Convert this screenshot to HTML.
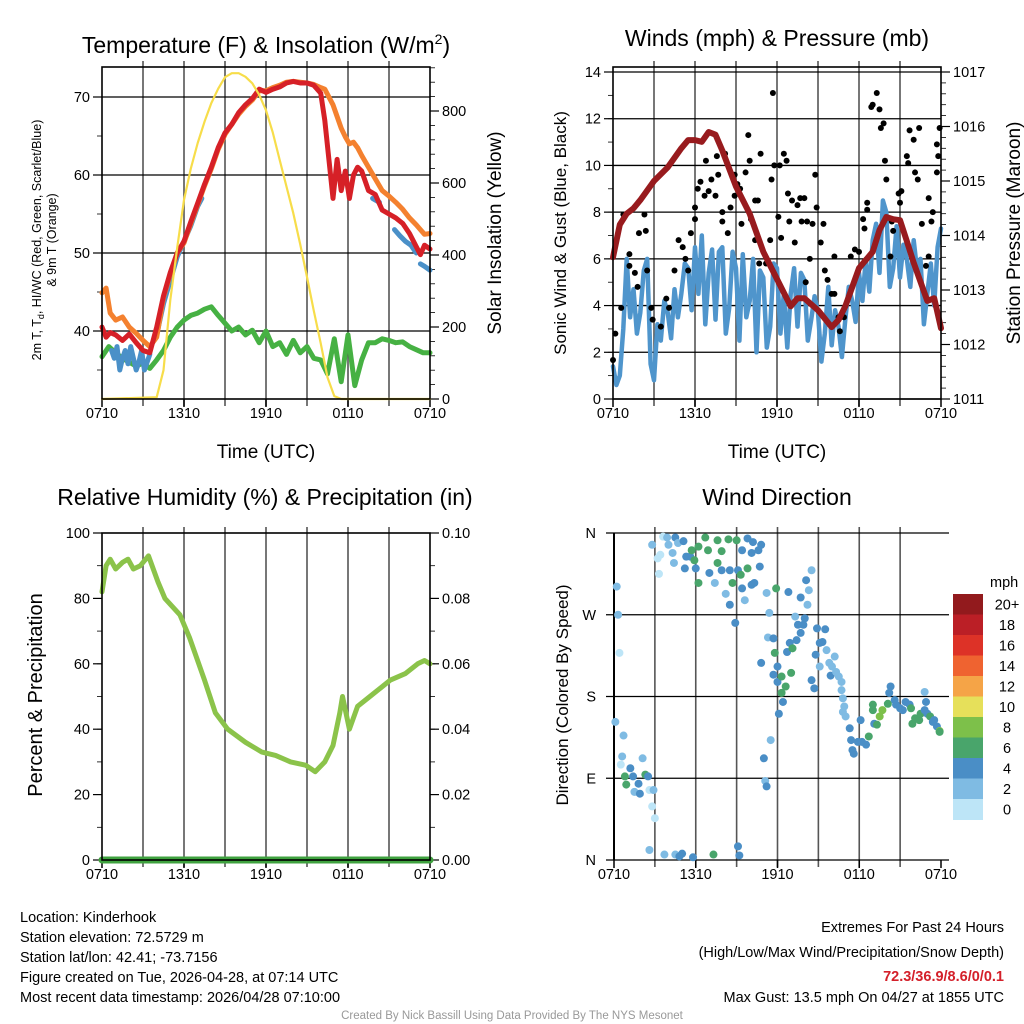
<!DOCTYPE html>
<html><head><meta charset="utf-8">
<style>
html,body{margin:0;padding:0;background:#fff;}
svg{display:block;font-family:"Liberation Sans",Arial,sans-serif;}
</style></head>
<body>
<svg id="fig" width="1024" height="1024" viewBox="0 0 1024 1024" xmlns="http://www.w3.org/2000/svg">
<rect width="1024" height="1024" fill="#fff"/>
<g font-size="23" text-anchor="middle" fill="#000">
<text x="266" y="53">Temperature (F) &amp; Insolation (W/m<tspan font-size="14" dy="-9">2</tspan><tspan dy="9">)</tspan></text>
<text x="777" y="46">Winds (mph) &amp; Pressure (mb)</text>
<text x="265" y="505">Relative Humidity (%) &amp; Precipitation (in)</text>
<text x="777" y="505">Wind Direction</text>
</g>
<g font-size="19" text-anchor="middle">
<text x="266" y="458">Time (UTC)</text>
<text x="777" y="458">Time (UTC)</text>
</g>
<g font-size="12.5" text-anchor="middle">
<text transform="translate(41,240) rotate(-90)">2m T, T<tspan font-size="9" dy="3">d</tspan><tspan dy="-3">, HI/WC (Red, Green, Scarlet/Blue)</tspan></text>
<text transform="translate(56,240) rotate(-90)">&amp; 9m T (Orange)</text>
</g>
<text transform="translate(501,233) rotate(-90)" font-size="19" text-anchor="middle">Solar Insolation (Yellow)</text>
<text transform="translate(566,233) rotate(-90)" font-size="17" text-anchor="middle">Sonic Wind &amp; Gust (Blue, Black)</text>
<text transform="translate(1020,233) rotate(-90)" font-size="19" text-anchor="middle">Station Pressure (Maroon)</text>
<text transform="translate(42,695) rotate(-90)" font-size="20" text-anchor="middle">Percent &amp; Precipitation</text>
<text transform="translate(568,695) rotate(-90)" font-size="17" text-anchor="middle">Direction (Colored By Speed)</text>
<g font-size="14.5" fill="#000">
<text x="20" y="922">Location: Kinderhook</text>
<text x="20" y="942">Station elevation: 72.5729 m</text>
<text x="20" y="962">Station lat/lon: 42.41; -73.7156</text>
<text x="20" y="982">Figure created on Tue, 2026-04-28, at 07:14 UTC</text>
<text x="20" y="1002">Most recent data timestamp: 2026/04/28 07:10:00</text>
</g>
<g font-size="14.5" text-anchor="end">
<text x="1004" y="932">Extremes For Past 24 Hours</text>
<text x="1004" y="957">(High/Low/Max Wind/Precipitation/Snow Depth)</text>
<text x="1004" y="981" fill="#d4202a" font-weight="bold">72.3/36.9/8.6/0/0.1</text>
<text x="1004" y="1002">Max Gust: 13.5 mph On 04/27 at 1855 UTC</text>
</g>
<text x="512" y="1019" font-size="11.5" fill="#999" text-anchor="middle">Created By Nick Bassill Using Data Provided By The NYS Mesonet</text>
</svg>
<script>
// ---------- DATA ----------
const xTickLabels = ["0710","1310","1910","0110","0710"];
const tempTickLabels = [40,50,60,70];
const solarTickLabels = [0,200,400,600,800];
const windTickLabels = [0,2,4,6,8,10,12,14];
const presTickLabels = [1011,1012,1013,1014,1015,1016,1017];
const rhTickLabels = [0,20,40,60,80,100];
const precipTickLabels = ["0.00","0.02","0.04","0.06","0.08","0.10"];
const dirTickLabels = ["N","E","S","W","N"];
const speedBins = ["0","2","4","6","8","10","12","14","16","18","20+"];
const speedColors = ["#bde5f7","#7fbbe3","#4a8ec6","#49a56b","#7dc04a","#e6e05a","#f5a447","#ef6330","#dd3227","#bb1f26","#921a1d"];

const tHours = [0,0.3,0.6,1,1.5,2,2.5,3,3.5,4,4.5,5,5.5,6,6.5,7,7.5,8,8.5,9,9.5,10,10.5,11,11.5,12,12.5,13,13.5,14,14.5,15,15.5,16,16.3,16.6,16.9,17.2,17.5,17.8,18.1,18.4,18.7,19,19.5,20,20.5,21,21.5,22,22.5,23,23.3,23.6,24];
const temp2m = [40.5,39.2,39.8,39.5,38.8,39.6,38.5,37.5,37.2,40.5,44.5,47.5,50,51.5,54,56.4,58.8,61,63.5,65.4,66.5,68,69,69.8,71,70.6,71,71.3,71.8,72,71.8,71.8,71.5,70.5,67,62,57,62,58,60.5,57,60,61,60.5,58,57.5,55.5,55,54.5,53.8,52.5,50.8,49.8,51,50.5];
const temp9m = [44.9,45.5,42.3,41.4,41.8,40.5,39.7,38.8,38,39.2,44.3,47.3,50,51.3,53.8,56.2,58.6,60.8,63.3,65.2,66.5,67.8,68.8,69.6,70.8,70.8,71.2,71.5,71.9,72,71.9,71.8,71.6,71.2,71,70,69,67.5,66,64.9,64,64.2,63.5,62.5,61,59.5,58,57.3,56.5,55.6,54.5,53.6,53,52.4,52.5];
const hiHours = [0.7,0.9,1.1,1.3,1.5,1.7,1.9,2.1,2.3,2.5,2.7,2.9,3.1,3.3,3.5,null,4.0,4.5,5,5.5,6,6.5,7,7.3,null,19.8,20.3,null,21.4,21.8,22.2,22.6,23,null,23.3,23.6,24];
const hiWc = [37.5,36.5,38,35,36.5,37.5,35.8,38,36.5,35,36,37.5,35,36,37,null,39.5,43.5,46.5,49.5,51.5,53.5,56,57,null,57,56.5,null,53,52.2,51.5,51,50,null,48.6,48.3,47.8];
const dewHours = [0,0.5,1,1.5,2,2.5,3,3.5,4,4.5,5,5.5,6,6.5,7,7.5,8,8.5,9,9.5,10,10.5,11,11.5,12,12.5,13,13.5,14,14.5,15,15.5,16,16.5,17,17.5,18,18.5,19,19.5,20,20.5,21,21.5,22,22.5,23,23.5,24];
const dewpoint = [36.7,38,37.2,36.5,36,35.5,35.9,35.2,36.3,37.5,39.2,40.5,41.4,42,42.3,42.8,43.1,42,41,40,40.5,39.5,40.1,38.5,40,38,38.5,37,38.8,37.2,38,36.5,36.3,34.5,39,33.5,39.5,33,36.3,38.5,38.5,39,38.8,38.5,38.6,38,37.6,37.2,37.2];
const solarHours = [0,4,4.5,5,5.5,6,6.5,7,7.5,8,8.5,9,9.5,10,10.5,11,11.5,12,12.5,13,13.5,14,14.5,15,15.5,16,16.5,17,17.5,24];
const solar = [0,5,80,275,420,553,640,711,770,822,862,894,905,905,895,877,845,802,740,664,590,516,430,339,245,155,60,8,0,0];

const windSpeed = [1.4,0.6,1.0,3,6.0,3.5,4.7,2.8,3.7,5.5,6.0,1.5,0.8,3.2,2.5,4.2,3.7,2.6,4.7,3.5,4.5,5.8,5.6,3.8,6.5,4.5,7.0,3.2,5.4,6.4,3.4,6.3,6.5,2.8,3.9,6.3,5.6,2.5,6.2,3.5,4.2,6,2.0,5.5,5.2,2.2,3.1,5.8,5.6,2.8,4.5,2.2,4.5,5.6,3.1,5.4,5.1,2.5,3.4,4.4,3.7,1.6,2.8,4.8,2.3,3.8,3.1,1.8,3.4,4.8,4.2,3.3,5.4,4.2,6.0,4.6,6.8,7.5,5.4,8.5,8.0,4.8,5.6,7.4,5.2,6.6,6.0,4.8,6.8,5.5,6.0,3.2,4.5,5.8,4.0,6.5,7.3];
const presHours = [0,0.5,1,1.5,2,3,4,5,5.5,6,6.5,7,7.5,8,9,10,11,12,13,13.5,14,15,16,16.5,17,18,19,19.5,20,20.5,21,21.5,22,23,23.5,24];
const pressure = [1013.6,1014.2,1014.4,1014.5,1014.65,1015.0,1015.25,1015.6,1015.75,1015.75,1015.72,1015.9,1015.85,1015.56,1014.9,1014.4,1013.7,1013.2,1012.7,1012.85,1012.85,1012.63,1012.32,1012.45,1012.7,1013.4,1013.7,1014.1,1014.34,1014.3,1014.28,1013.9,1013.5,1012.8,1012.85,1012.3];
const gustHours = [0,0.17,0.6,0.76,1.2,1.2,1.6,1.8,1.9,2.3,2.4,2.5,2.8,2.9,3.5,3.9,4.1,4.5,4.8,5.1,5.3,5.5,5.7,6.0,6.0,6.2,6.4,6.7,6.8,7.0,7.2,7.5,7.6,7.7,8.0,8.0,8.2,8.4,8.6,8.9,8.9,9.1,9.3,9.4,9.7,9.9,10.0,10.1,10.4,10.4,10.6,10.7,10.8,11.2,11.5,11.6,11.7,11.8,12.1,12.2,12.3,12.5,12.7,12.8,12.9,13.1,13.3,13.5,13.7,13.8,14.0,14.1,14.2,14.4,14.6,14.8,14.9,15.2,15.4,15.5,15.7,16.0,16.2,16.2,16.5,16.6,16.9,17.4,17.7,18.0,18.3,18.4,18.6,18.6,18.9,19.0,19.3,19.5,19.6,19.8,19.9,20.0,20.3,20.4,20.5,20.9,21.0,21.1,21.5,21.6,21.7,22.0,22.1,22.3,22.4,22.6,22.9,23.1,23.1,23.3,23.4,23.7,23.7,23.8,23.9];
const gusts = [1.67,2.8,3.9,7.9,6.2,5.7,5.4,4.8,7.1,7.9,7.2,5.5,3.9,3.4,3.1,4.3,3.9,5.5,6.8,6.5,6.0,5.5,7.1,8.2,7.7,9.0,9.3,8.7,10.2,8.9,9.4,8.7,10.4,9.6,8.0,7.6,10.5,7.1,8.2,8.7,9.6,9.2,9.0,7.5,9.7,11.3,10.2,7.7,6.8,8.5,8.5,5.8,10.5,5.8,6.8,9.4,13.1,10.0,7.8,10.0,6.9,10.5,10.2,8.8,7.6,8.5,6.7,8.3,8.6,7.6,8.6,5.0,7.6,6.0,7.5,9.6,8.2,6.7,7.5,5.5,5.1,4.5,4.5,6.1,3.5,2.9,3.5,6.1,6.4,6.3,7.7,7.3,8.1,8.4,12.5,12.6,13.1,12.4,11.6,11.8,10.2,9.4,6.1,7.6,7.2,8.8,8.4,8.9,10.4,10.1,11.5,11.1,9.7,9.4,11.6,7.5,5.7,6.1,8.6,7.6,8.0,9.7,10.9,10.4,11.6];

const rhHours = [0,0.3,0.6,1,1.5,1.9,2.3,2.8,3.4,4.1,4.6,5.7,6.4,7.5,8.3,9.2,10.5,11.7,12.7,13.8,14.9,15.6,16.3,16.9,17.4,17.6,18.1,18.7,19.6,21.1,22.2,23.1,23.6,24];
const rh = [82,90,92,89,91,92,89,90,93,85,80,75,68,55,45,40,36,33,32,30,29,27,30,35,45,50,40,47,50,55,57,60,61,60];
const precipHours = [0,24];
const precip = [0,0];

const dirHours = [0.2,0.3,0.4,0.1,0.7,0.6,0.5,0.8,0.9,1.2,1.4,1.5,1.9,1.8,2.1,2.3,2.5,2.6,2.9,2.8,3.0,2.6,3.7,4.5,5.0,4.8,5.8,7.3,9.1,9.2,2.8,3.3,3.2,3.4,3.6,3.9,4.0,4.3,4.4,4.5,4.7,5.1,5.3,5.2,5.6,5.7,5.9,6.0,6.2,6.2,6.7,6.9,7.0,7.4,7.6,7.6,7.9,7.9,8.2,8.5,8.4,8.5,8.7,8.9,9.0,9.1,9.4,9.3,9.4,9.6,9.8,9.8,10.1,10.2,10.1,10.3,10.6,10.7,10.8,11.2,11.4,11.3,11.7,11.9,11.8,10.8,11.7,12.0,12.0,12.3,12.6,12.3,12.4,12.1,11.5,11.0,11.1,11.2,12.8,13.0,12.7,12.9,13.1,13.3,13.4,13.5,13.7,13.7,13.9,14.0,14.1,14.2,14.3,14.5,14.5,14.7,14.8,14.9,15.1,15.1,15.3,15.5,15.6,15.8,15.9,16.0,16.2,16.3,16.5,16.7,16.7,16.8,16.9,16.8,17.0,17.3,17.4,17.5,17.6,17.9,18.1,18.2,18.5,18.7,19.1,19.3,19.0,19.0,19.5,19.7,20.1,20.3,20.2,20.6,20.7,21.0,21.2,21.4,21.7,21.8,21.9,22.1,22.4,22.5,22.8,22.9,22.8,23.0,23.2,23.4,23.5,23.7,23.9,23.9];
const dirDeg = [301,270,228,152,137,114,105,92,83,101,92,75,73,84,112,94,92,77,77,59,46,11,6,6,7,4,3,6,15,5,347,315,332,336,356,355,347,338,327,355,349,351,334,321,334,341,330,321,305,345,355,341,316,305,352,327,340,319,293,281,353,319,305,261,352,319,341,314,299,286,354,321,338,350,303,305,341,323,347,294,272,245,244,299,228,217,204,213,196,202,191,184,174,161,132,112,87,81,295,206,229,239,233,268,242,259,250,289,259,266,308,281,297,319,198,189,226,255,213,239,240,254,231,217,203,213,224,207,202,196,187,178,169,163,158,145,132,121,117,130,154,130,127,136,150,149,165,171,158,165,172,191,184,176,171,167,165,174,171,167,150,156,154,161,185,174,165,161,158,152,154,147,142,141];
const dirSpeed = [2,2,0,2,2,2,0,6,6,4,4,2,4,4,2,6,4,0,2,0,0,2,2,2,4,4,4,6,4,4,2,0,0,0,0,2,2,2,2,4,2,4,4,4,4,6,6,4,6,6,6,6,4,2,6,6,6,4,2,4,6,4,6,4,6,4,4,6,4,2,4,6,4,4,4,4,4,4,4,2,2,2,4,6,6,4,4,4,4,6,6,6,4,4,2,4,2,4,4,6,4,4,6,2,4,4,4,4,4,4,4,2,2,2,4,4,4,4,2,4,4,4,2,2,4,2,2,2,2,2,2,2,2,2,2,4,4,4,4,4,4,4,4,6,4,6,6,6,8,8,6,4,4,4,4,4,4,4,4,6,6,6,6,6,2,4,4,4,6,4,4,4,8,6];

// ---------- HELPERS ----------
const NS = "http://www.w3.org/2000/svg";
const svg = document.getElementById("fig");
function mk(tag, attrs, parent){ const e=document.createElementNS(NS,tag); for(const k in attrs) e.setAttribute(k,attrs[k]); (parent||svg).appendChild(e); return e; }
function lin(d0,d1,r0,r1){ return v => r0 + (v-d0)/(d1-d0)*(r1-r0); }
function pathFrom(xs, ys, fx, fy){
  let d="", pen=false;
  for(let i=0;i<xs.length;i++){
    if(xs[i]===null||ys[i]===null){pen=false;continue;}
    d += (pen?"L":"M") + fx(xs[i]).toFixed(1) + " " + fy(ys[i]).toFixed(1);
    pen=true;
  }
  return d;
}

function panel(name, L, T, R, B){
  const g = mk("g",{});
  
  
  return g;
}
function timeGrid(g, L, T, R, B, labels){
  const fx = lin(0,24,L,R);
  for(let h=3; h<24; h+=3){
    const l = mk("line",{x1:fx(h),x2:fx(h),y1:T-6,y2:B+7,stroke:"#555","stroke-width":1.6},g);
    
    
  }
  labels.forEach((lab,i)=>{
    const x = fx(i*6);
    const tk = mk("line",{x1:x,x2:x,y1:B,y2:B+8,stroke:"#000","stroke-width":1.5},g);
    
    
    const t = mk("text",{x:x,y:B+19,"font-size":14.5,"text-anchor":"middle"},g);
    t.textContent = lab;
    
    
  });
  return fx;
}
function yAxis(g, side, X, T, B, fy, majors, labels, minorStep, lo, hi, gridL, gridR){
  const dir = side==="left" ? -1 : 1;
  majors.forEach((v,i)=>{
    const y = fy(v);
    if(gridL!==undefined){
      const gl = mk("line",{x1:gridL,x2:gridR,y1:y,y2:y,stroke:"#000","stroke-width":1.3},g);
      
      
    }
    const tk = mk("line",{x1:X,x2:X+dir*9,y1:y,y2:y,stroke:"#000","stroke-width":1.2},g);
    
    
    const t = mk("text",{x:X+dir*12,y:y+5,"font-size":14.5,"text-anchor":side==="left"?"end":"start"},g);
    t.textContent = labels[i];
    
    
  });
  if(minorStep){
    for(let v=lo; v<=hi+1e-9; v+=minorStep){
      const y=fy(v); if(y<T-0.5||y>B+0.5) continue;
      const m = mk("line",{x1:X,x2:X+dir*5,y1:y,y2:y,stroke:"#000","stroke-width":0.8},g);
      
      
    }
  }
}
function frame(g,L,T,R,B){
  const f = mk("rect",{x:L,y:T,width:R-L,height:B-T,fill:"none",stroke:"#000","stroke-width":1.6},g);
  
  
}
function series(g, xs, ys, fx, fy, color, w, name){
  const p = mk("path",{d:pathFrom(xs,ys,fx,fy),fill:"none",stroke:color,"stroke-width":w,"stroke-linejoin":"round","stroke-linecap":"round"},g);
  
  
  return p;
}

// ---------- PANEL 1 : Temperature ----------
(function(){
  const L=102,T=67,R=430,B=399;
  const g = panel('temperature-panel');
  const fx = timeGrid(g,L,T,R,B,xTickLabels);
  const fy = lin(40,70,331,97);
  const fs = lin(0,800,399,111);
  yAxis(g,"left",L,T,B,fy,tempTickLabels,tempTickLabels,5,30,75,L,R);
  yAxis(g,"right",R,T,B,fs,solarTickLabels,solarTickLabels,40,0,920);
  series(g,dewHours,dewpoint,fx,fy,"#46b143",5,'dewpoint-line');
  series(g,hiHours,hiWc,fx,fy,"#4a90c8",5,'heat-index-windchill-line');
  series(g,tHours,temp9m,fx,fy,"#f4812f",5,'temp-9m-line');
  series(g,tHours,temp2m,fx,fy,"#d62027",5,'temp-2m-line');
  series(g,solarHours,solar,fx,fs,"#f7dd4a",2.2,'solar-insolation-line');
  frame(g,L,T,R,B);
})();

// ---------- PANEL 2 : Winds ----------
(function(){
  const L=613,T=67,R=941,B=399;
  const g = panel('winds-panel');
  const fx = timeGrid(g,L,T,R,B,xTickLabels);
  const fy = lin(0,14,399,72);
  const fp = lin(1011,1017,399,72);
  yAxis(g,"left",L,T,B,fy,windTickLabels,windTickLabels,1,0,14,L,R);
  yAxis(g,"right",R,T,B,fp,presTickLabels,presTickLabels,0.2,1011,1017.2);
  const wHours = windSpeed.map((_,i)=>i*0.25);
  series(g,wHours,windSpeed,fx,fy,"#4f95cc",4.5,'sonic-wind-line');
  gustHours.forEach((h,i)=>{
    const c = mk("circle",{cx:fx(h),cy:fy(gusts[i]),r:3,fill:"#000"},g);
    
    
  });
  series(g,presHours,pressure,fx,fp,"#981b1e",6,'pressure-line');
  frame(g,L,T,R,B);
})();

// ---------- PANEL 3 : RH ----------
(function(){
  const L=102,T=533,R=430,B=860;
  const g = panel('humidity-panel');
  const fx = timeGrid(g,L,T,R,B,xTickLabels);
  const fy = lin(0,100,860,533);
  const fq = lin(0,0.1,860,533);
  yAxis(g,"left",L,T,B,fy,rhTickLabels,rhTickLabels,10,0,100);
  yAxis(g,"right",R,T,B,fq,[0,0.02,0.04,0.06,0.08,0.1],precipTickLabels,0.01,0,0.1);
  series(g,precipHours,precip,fx,fq,"#3fa23f",7,'precipitation-line');
  series(g,rhHours,rh,fx,fy,"#8bc34a",5,'relative-humidity-line');
  frame(g,L,T,R,B);
})();

// ---------- PANEL 4 : Wind direction ----------
(function(){
  const L=614,T=533,R=941,B=860;
  const g = panel('wind-direction-panel');
  const fx = timeGrid(g,L,T,R,B,xTickLabels);
  const fy = lin(0,360,860,533);
  [0,90,180,270,360].forEach((v,i)=>{
    const y=fy(v);
    const gl = mk("line",{x1:L-8,x2:R+8,y1:y,y2:y,stroke:"#000","stroke-width":1.3},g);
    
    
    const t = mk("text",{x:L-18,y:y+5,"font-size":14.5,"text-anchor":"end"},g);
    t.textContent = dirTickLabels[i];
    
    
  });
  const ax = mk("line",{x1:L,x2:L,y1:T,y2:B,stroke:"#000","stroke-width":2},g);
  
  
  dirHours.forEach((h,i)=>{
    const c = mk("circle",{cx:fx(h),cy:fy(dirDeg[i]),r:4,fill:speedColors[dirSpeed[i]/2]},g);
    
    
  });
  // colorbar
  const cb = mk("g",{},g);
  
  
  const top=594, bh=20.5;
  const mph = mk("text",{x:990,y:587,"font-size":14.5},cb);
  mph.textContent="mph";
  
  
  for(let k=0;k<speedBins.length;k++){
    const idx = speedBins.length-1-k;
    const y = top + k*bh;
    const r = mk("rect",{x:953,y:y,width:30,height:bh+0.5,fill:speedColors[idx]},cb);
    
    
    const t = mk("text",{x:1007,y:y+bh/2+5,"font-size":14.5,"text-anchor":"middle"},cb);
    t.textContent = speedBins[idx];
    
    
  }
})();
</script>
</body></html>
